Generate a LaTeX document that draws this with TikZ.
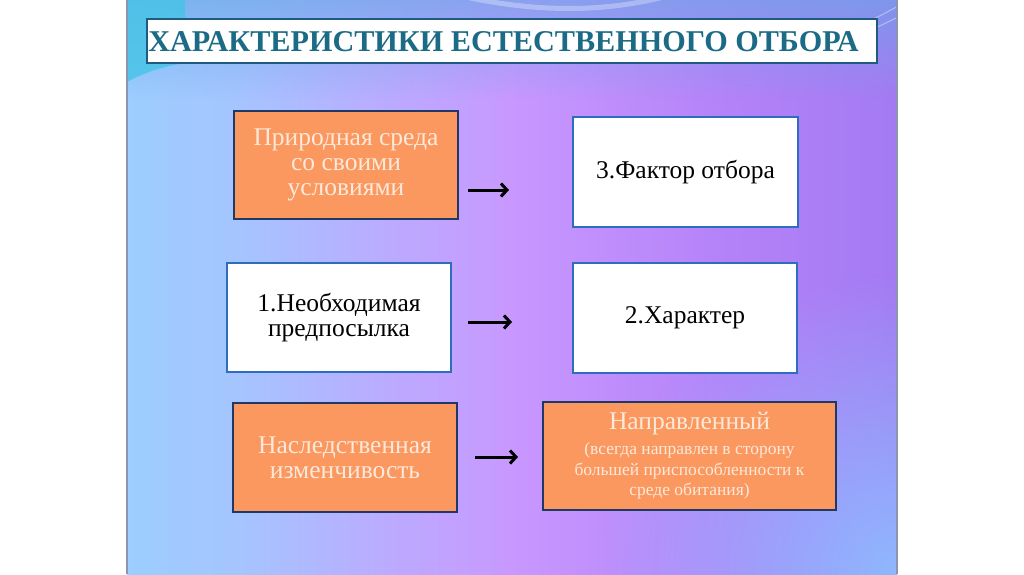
\documentclass[tikz,border=0pt]{standalone}
\usepackage{fontspec}
\setmainfont{Liberation Serif}
\usetikzlibrary{fadings,arrows.meta}
\definecolor{orangebox}{HTML}{FA9860}
\definecolor{navyline}{HTML}{203864}
\definecolor{blueline}{HTML}{2E6CC0}
\definecolor{creamtext}{HTML}{FCE9DA}
\definecolor{titletext}{HTML}{1B6A86}
\definecolor{titleline}{HTML}{1F5A80}
\definecolor{bgBR}{HTML}{8EBBFF}
\definecolor{bgTop}{HTML}{6AA6E8}
\definecolor{cyanTL}{HTML}{45C4E6}
\definecolor{slideedge}{HTML}{8C96B4}
\pgfdeclarehorizontalshading{slidebg}{100bp}{
  color(0bp)=(rgb,255:red,156;green,206;blue,255);
  color(25bp)=(rgb,255:red,156;green,206;blue,255);
  color(32.5bp)=(rgb,255:red,166;green,196;blue,255);
  color(41.5bp)=(rgb,255:red,186;green,172;blue,255);
  color(50bp)=(rgb,255:red,200;green,152;blue,255);
  color(64bp)=(rgb,255:red,180;green,130;blue,248);
  color(75bp)=(rgb,255:red,164;green,122;blue,242);
  color(100bp)=(rgb,255:red,164;green,122;blue,242)}
\newcommand{\smalltxt}{\fontsize{17.5}{20.5}\selectfont}
\tikzfading[name=radfade, inner color=transparent!5, outer color=transparent!100]
\tikzfading[name=topfade, top color=transparent!35, bottom color=transparent!100]
\tikzset{
  orangenode/.style={draw=navyline, line width=1.8pt, fill=orangebox, text=creamtext,
    align=center, minimum width=224pt, minimum height=108pt, inner sep=0pt,
    font=\fontsize{25.5}{25}\selectfont},
  whitenode/.style={draw=blueline, line width=1.6pt, fill=white, text=black,
    align=center, minimum width=224pt, minimum height=109pt, inner sep=0pt,
    font=\fontsize{25.5}{25}\selectfont},
  titlebox/.style={draw=titleline, line width=1.8pt, fill=white,
    minimum width=730pt, minimum height=44pt, inner sep=0pt},
  titletxt/.style={text=titletext, inner sep=0pt, font=\fontsize{30.2}{32}\selectfont\bfseries},
  arrowline/.style={line width=3pt, -{Straight Barb[length=6pt,width=13pt]}, black}
}
\begin{document}
\begin{tikzpicture}[x=1pt,y=-1pt]
\useasboundingbox (0,0) rectangle (1024,574);
\fill[white] (0,0) rectangle (1024,574);
\begin{scope}
  \clip (127,0) rectangle (897,574);
  \shade[shading=slidebg] (127,0) rectangle (897,574);
  \fill[bgBR, path fading=radfade] (897,574) circle (300);
  \fill[bgTop, path fading=topfade] (127,0) rectangle (897,100);
  \fill[cyanTL, opacity=0.8] (127,0) -- (127,82) .. controls (145,72) and (165,66) .. (185,63) -- (185,0) -- cycle;
  \draw[white, opacity=0.3, line width=5pt] (470,-2) .. controls (540,12) and (600,12) .. (660,-2);
  \draw[white, opacity=0.4, line width=1pt] (800,50) .. controls (840,35) and (870,22) .. (900,5);
  \draw[white, opacity=0.4, line width=1pt] (820,52) .. controls (855,38) and (880,26) .. (900,16);
\end{scope}
\draw[slideedge, line width=1.2pt] (127,0) -- (127,574);
\draw[slideedge, line width=1.2pt] (897,0) -- (897,574);

\node[titlebox] (tbox) at (512,41) {};
\node[titletxt] (title) at (503.5,42) {ХАРАКТЕРИСТИКИ ЕСТЕСТВЕННОГО ОТБОРА};

\node[orangenode] (env) at (346,165) {Природная среда\\со своими\\условиями};
\node[whitenode, minimum width=225pt, minimum height=110pt] (factor) at (685.5,172) {3.Фактор отбора};
\node[whitenode] (prereq) at (339,317.5) {1.Необходимая\\предпосылка};
\node[whitenode, minimum height=110pt] (charac) at (685,318) {2.Характер};
\node[orangenode, minimum height=109pt] (hered) at (345,457.5) {Наследственная\\изменчивость};
\node[orangenode, minimum width=293pt, minimum height=108pt] (direct) at (689.5,456)
  {Направленный\\ \smalltxt(всегда направлен в сторону\\[-4.5pt] \smalltxt большей приспособленности к\\[-4.5pt] \smalltxt среде обитания)};

\coordinate (a1s) at (468,190);
\coordinate (a1e) at (509,190);
\coordinate (a2s) at (468,322);
\coordinate (a2e) at (512,322);
\coordinate (a3s) at (475,457);
\coordinate (a3e) at (518,457);
\draw[arrowline] (a1s) -- (a1e);
\draw[arrowline] (a2s) -- (a2e);
\draw[arrowline] (a3s) -- (a3e);
\end{tikzpicture}
\end{document}
